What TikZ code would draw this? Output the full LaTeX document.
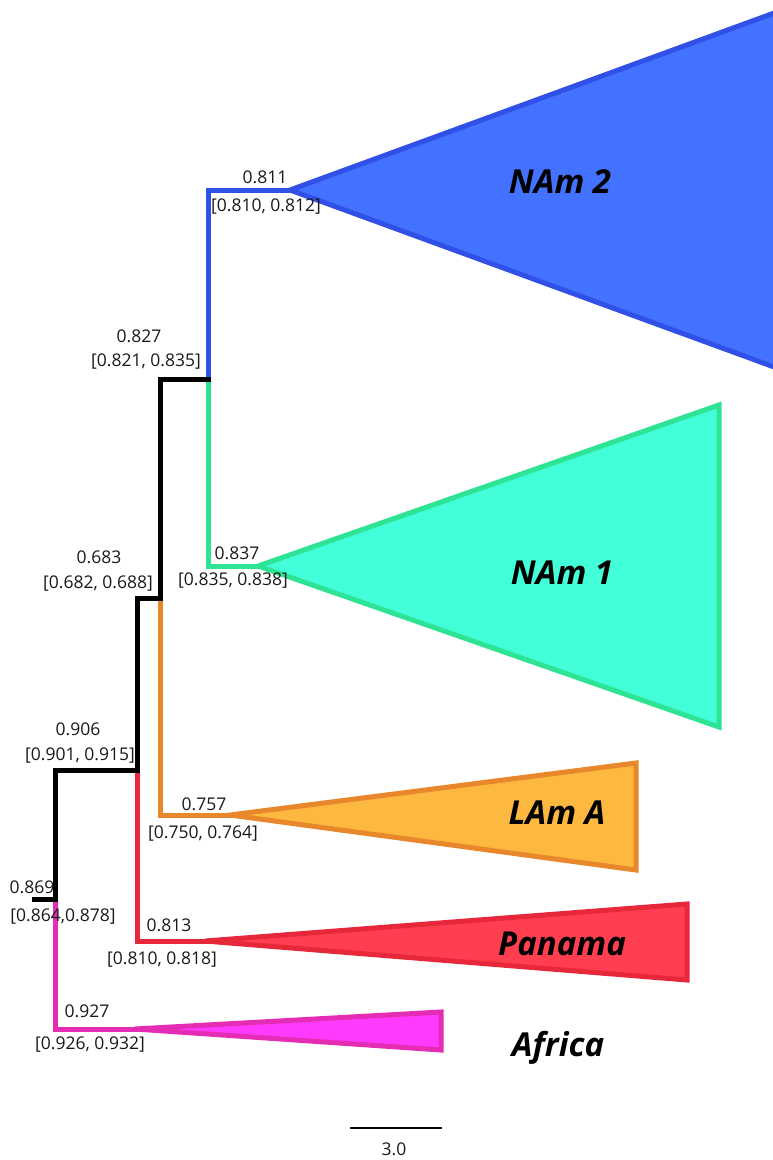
\documentclass[tikz,border=0pt]{standalone}
\usepackage{fontspec}
\setmainfont{Open Sans}
\definecolor{bluel}{HTML}{3050E8}
\definecolor{bluef}{HTML}{4272FF}
\definecolor{greenl}{HTML}{2EE394}
\definecolor{greenf}{HTML}{42FFD9}
\definecolor{orangel}{HTML}{E8872C}
\definecolor{orangef}{HTML}{FDB93F}
\definecolor{redl}{HTML}{E6283A}
\definecolor{redf}{HTML}{FF3F50}
\definecolor{pinkl}{HTML}{E42DB4}
\definecolor{pinkf}{HTML}{FF3AFF}
\begin{document}
\begin{tikzpicture}[x=1pt,y=-1pt,
  br/.style={line width=5pt, line join=miter, line cap=rect},
  tri/.style={line width=5pt, line join=miter},
  lab/.style={font=\fontsize{17.5}{20}\selectfont, inner sep=0pt, text=black!90},
  clade/.style={font=\fontsize{33}{38}\selectfont\bfseries\itshape, inner sep=0pt}]
\useasboundingbox (0,0) rectangle (773,1160);
\begin{scope}
\clip (0,0) rectangle (773,1160);
% tree coordinates
\coordinate (s) at (34,899);
\coordinate (r) at (55,899);
\coordinate (a) at (55,770);
\coordinate (b) at (137,770);
\coordinate (c) at (137,598);
\coordinate (d) at (160,598);
\coordinate (e) at (160,379);
\coordinate (f) at (208,379);
\coordinate (g) at (208,190);
\coordinate (h) at (208,566);
\coordinate (i) at (160,815);
\coordinate (j) at (137,941);
\coordinate (k) at (55,1029);
% apices
\coordinate (ap2) at (290,190);
\coordinate (ap1) at (258,566);
\coordinate (apA) at (230,815);
\coordinate (apP) at (205,941);
\coordinate (apF) at (135,1029);
% triangles
\draw[tri, draw=bluel, fill=bluef] (ap2) -- (900,-33) -- (900,413) -- cycle;
\draw[tri, draw=greenl, fill=greenf] (ap1) -- (719,405) -- (719,727) -- cycle;
\draw[tri, draw=orangel, fill=orangef] (apA) -- (636,763) -- (636,870) -- cycle;
\draw[tri, draw=redl, fill=redf] (apP) -- (687,904) -- (687,980) -- cycle;
\draw[tri, draw=pinkl, fill=pinkf] (apF) -- (441,1012) -- (441,1050) -- cycle;
% coloured branches
\draw[br, bluel] (f) -- (g) -- (ap2);
\draw[br, greenl] (f) -- (h) -- (ap1);
\draw[br, orangel] (d) -- (i) -- (apA);
\draw[br, redl] (b) -- (j) -- (apP);
\draw[br, pinkl] (r) -- (k) -- (apF);
% black backbone
\draw[br, black] (s) -- (r) -- (a) -- (b) -- (c) -- (d) -- (e) -- (f);
\end{scope}
% node labels
\node[lab] (l811) at (265,177) {0.811};
\node[lab] (c811) at (266,207) {[0.810, 0.812]};
\node[lab] (l827) at (139,336) {0.827};
\node[lab] (c827) at (146,362) {[0.821, 0.835]};
\node[lab] (l837) at (237,553) {0.837};
\node[lab] (c837) at (233,581) {[0.835, 0.838]};
\node[lab] (l683) at (99,557) {0.683};
\node[lab] (c683) at (98,584) {[0.682, 0.688]};
\node[lab] (l906) at (78,729) {0.906};
\node[lab] (c906) at (80,756) {[0.901, 0.915]};
\node[lab] (l757) at (204,804) {0.757};
\node[lab] (c757) at (203,834) {[0.750, 0.764]};
\node[lab] (l869) at (32,887) {0.869};
\node[lab] (c869) at (63,917) {[0.864,0.878]};
\node[lab] (l813) at (169,925) {0.813};
\node[lab] (c813) at (162,960) {[0.810, 0.818]};
\node[lab] (l927) at (87,1011) {0.927};
\node[lab] (c927) at (90,1045) {[0.926, 0.932]};
% clade names
\node[clade] (nam2) at (560,182) {NAm 2};
\node[clade] (nam1) at (562,573) {NAm 1};
\node[clade] (lama) at (557,813) {LAm A};
\node[clade] (pan) at (562,944) {Panama};
\node[clade] (afr) at (558,1048) {Africa};
% scale bar
\coordinate (sb1) at (350,1128);
\coordinate (sb2) at (442,1128);
\draw[line width=2pt] (sb1) -- (sb2);
\node[lab] (sbl) at (394,1149) {3.0};
\end{tikzpicture}
\end{document}
